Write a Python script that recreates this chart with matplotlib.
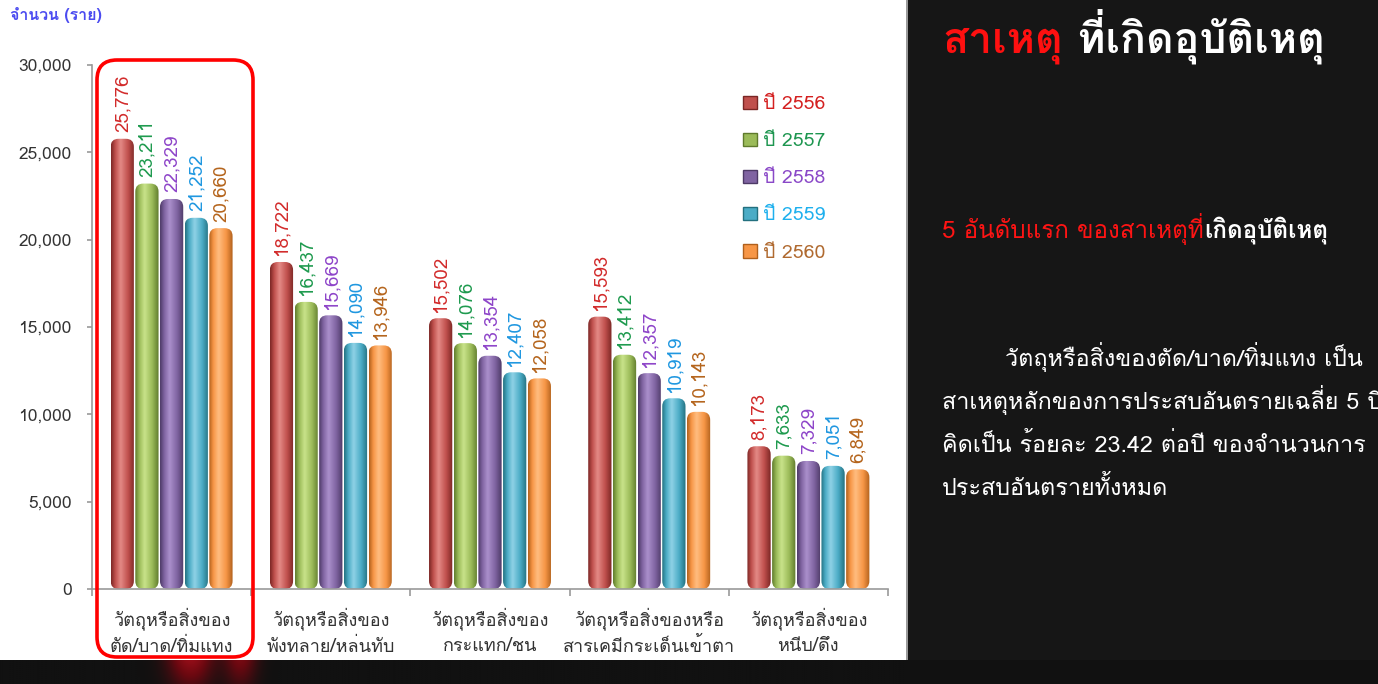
import numpy as np
import matplotlib
matplotlib.use('Agg')
import matplotlib.pyplot as plt
from matplotlib import font_manager
from matplotlib.ft2font import FT2Font
from matplotlib.patches import FancyBboxPatch, Rectangle, Patch
from matplotlib.colors import LinearSegmentedColormap
import matplotlib.transforms as mtransforms

# ---------------- data ----------------
categories = ['วัตถุหรือสิ่งของ\nตัด/บาด/ทิ่มแทง',
              'วัตถุหรือสิ่งของ\nพังทลาย/หล่นทับ',
              'วัตถุหรือสิ่งของ\nกระแทก/ชน',
              'วัตถุหรือสิ่งของหรือ\nสารเคมีกระเด็นเข้าตา',
              'วัตถุหรือสิ่งของ\nหนีบ/ดึง']
years = ['ปี 2556', 'ปี 2557', 'ปี 2558', 'ปี 2559', 'ปี 2560']
v2556 = [25776, 18722, 15502, 15593, 8173]
v2557 = [23211, 16437, 14076, 13412, 7633]
v2558 = [22329, 15669, 13354, 12357, 7329]
v2559 = [21252, 14090, 12407, 10919, 7051]
v2560 = [20660, 13946, 12058, 10143, 6849]
yticks = [0, 5000, 10000, 15000, 20000, 25000, 30000]

title_red = 'สาเหตุ'
title_white = ' ที่เกิดอุบัติเหตุ'
sub_red = '5 อันดับแรก ของสาเหตุที่'
sub_white = 'เกิดอุบัติเหตุ'
para = ['        วัตถุหรือสิ่งของตัด/บาด/ทิ่มแทง เป็น',
        'สาเหตุหลักของการประสบอันตรายเฉลี่ย 5 ปี',
        'คิดเป็น ร้อยละ 23.42 ต่อปี ของจำนวนการ',
        'ประสบอันตรายทั้งหมด']

series = [v2556, v2557, v2558, v2559, v2560]
barColors = ['#c0504d', '#9bbb59', '#8064a2', '#4bacc6', '#f79646']
darkColors = ['#7a2624', '#5f7a2c', '#4d3a66', '#23707f', '#b0601c']
lightColors = ['#e48a86', '#c9e38a', '#ab90cc', '#8fd2e6', '#ffbd80']
labelColors = ['#d22b2b', '#1e9a4e', '#8e45c9', '#1f97e0', '#b5651d']
legendColors = ['#d42020', '#1e9650', '#8a48c8', '#1eb0ee', '#b06a30']


# ---------------- fonts ----------------
def findThaiFonts():
    found = {}
    for f in font_manager.fontManager.ttflist:
        try:
            ft = FT2Font(f.fname)
            if ft.get_char_index(0x0E01) and ft.get_char_index(0x0E35):
                w = f.weight if isinstance(f.weight, int) else (700 if 'bold' in str(f.weight) else 400)
                found.setdefault(f.name, set()).add(w)
        except Exception:
            pass
    return found

thaiFonts = findThaiFonts()
prefer = ['Tahoma', 'Leelawadee UI', 'Loma', 'Noto Sans Thai', 'Noto Sans Thai UI',
          'Garuda', 'Sarabun', 'Umpush', 'Waree', 'IBM Plex Sans Thai Looped']
thai = None
for p in prefer:
    if p in thaiFonts:
        thai = p
        break
if thai is None and thaiFonts:
    thai = sorted(thaiFonts)[0]

# a bold-capable looped font for the headings
thaiBold = thai
if thai is None or max(thaiFonts.get(thai, {400})) < 600:
    for p in prefer + sorted(thaiFonts):
        if p in thaiFonts and max(thaiFonts[p]) >= 600:
            thaiBold = p
            break

fams = ([thai] if thai else []) + ['DejaVu Sans']
boldFams = ([thaiBold] if thaiBold else []) + ['DejaVu Sans']
plt.rcParams['font.family'] = fams

# ---------------- figure ----------------
W, H = 1378, 684
fig = plt.figure(figsize=(W / 100, H / 100), dpi=100)
fig.patch.set_facecolor('white')

# dark right panel and bottom strip
fig.patches.append(Rectangle((907 / W, 0), 1 - 907 / W, 1, transform=fig.transFigure,
                             facecolor='#161616', edgecolor='none', zorder=-1))
fig.patches.append(Rectangle((906 / W, 24 / H), 1.5 / W, 1 - 24 / H, transform=fig.transFigure,
                             facecolor='#9a9a9a', edgecolor='none', zorder=-1))
fig.patches.append(Rectangle((0, 0), 1, 24 / H, transform=fig.transFigure,
                             facecolor='#111111', edgecolor='none', zorder=-1))

# red glow on bottom strip
glowAx = fig.add_axes([0, 0, 907 / W, 24 / H])
glowAx.axis('off')
gx = np.linspace(0, 907, 400)
gy = np.linspace(0, 1, 12).reshape(-1, 1)
glow = (np.exp(-((gx - 190) / 22) ** 2) * 0.9 + np.exp(-((gx - 240) / 16) ** 2) * 0.65) * (0.45 + 0.55 * gy)
glowCmap = LinearSegmentedColormap.from_list('glow', ['#111111', '#6a0810', '#a8101c'])
glowAx.imshow(glow, cmap=glowCmap, vmin=0, vmax=1.1, aspect='auto', origin='lower',
              extent=[0, 907, 0, 24], interpolation='bicubic')

# main axes
axL, axB = 92 / W, (H - 589) / H
axW, axH = (888 - 92) / W, (589 - 65) / H
ax = fig.add_axes([axL, axB, axW, axH])
ax.set_facecolor('none')

nCat = len(categories)
nSer = len(series)
step = 0.155
bw = 0.146
xlim = (0, nCat)
ylim = (0, 30000)

# y units per x unit at same pixel length (for rounded bar tops)
pxX = axW * W / (xlim[1] - xlim[0])
pxY = axH * H / (ylim[1] - ylim[0])
aspect = pxX / pxY
capPx = 8.0

grad = np.linspace(0, 1, 128).reshape(1, -1)
for s, vals in enumerate(series):
    cmap = LinearSegmentedColormap.from_list(
        'c%d' % s,
        [(0, darkColors[s]), (0.18, barColors[s]), (0.4, lightColors[s]),
         (0.72, barColors[s]), (1, darkColors[s])])
    for c, v in enumerate(vals):
        x0 = c + 0.5 + (s - (nSer - 1) / 2) * step - bw / 2
        rs = capPx / pxY / aspect
        patch = FancyBboxPatch((x0, 0), bw, v,
                               boxstyle='round,pad=0,rounding_size=%f' % rs,
                               mutation_aspect=aspect, linewidth=0,
                               facecolor='none', edgecolor='none')
        ax.add_patch(patch)
        im = ax.imshow(grad, cmap=cmap, extent=[x0, x0 + bw, 0, v], aspect='auto',
                       origin='lower', interpolation='bicubic', zorder=2)
        im.set_clip_path(patch)
        ax.text(x0 + bw / 2, v + 380, format(v, ','), rotation=90, ha='center',
                va='bottom', color=labelColors[s], fontsize=13.5)

ax.set_xlim(*xlim)
ax.set_ylim(*ylim)
for sp in ['top', 'right']:
    ax.spines[sp].set_visible(False)
for sp in ['left', 'bottom']:
    ax.spines[sp].set_color('#9a9a9a')
    ax.spines[sp].set_linewidth(1.2)
ax.set_yticks(yticks)
ax.set_yticklabels([format(t, ',') for t in yticks])
ax.tick_params(axis='y', colors='#9a9a9a', labelcolor='#333333', labelsize=12.5,
               length=3.5, width=1.2, pad=11)
ax.set_xticks(range(nCat + 1))
ax.set_xticklabels([])
ax.tick_params(axis='x', colors='#9a9a9a', length=5, width=1.2)

trans = mtransforms.blended_transform_factory(ax.transData, ax.transAxes)
for c, lab in enumerate(categories):
    ax.text(c + 0.5, -0.081, lab, transform=trans, ha='center', va='center',
            fontsize=13, color='#333333', linespacing=1.5)

# legend
handles = [Patch(facecolor=barColors[s], edgecolor=darkColors[s], linewidth=1.0)
           for s in range(nSer)]
leg = ax.legend(handles, years, loc='upper left', bbox_to_anchor=(0.808, 0.957),
                frameon=False, fontsize=14, handlelength=0.7, handleheight=0.7,
                handletextpad=0.35, labelspacing=0.98, borderaxespad=0)
for s, t in enumerate(leg.get_texts()):
    t.set_color(legendColors[s])

# y-axis caption
fig.text(10 / W, 1 - 20 / H, 'จำนวน (ราย)', color='#4b4bf0', fontsize=11.5,
         fontweight='bold', family=boldFams, va='baseline', ha='left')

# red rounded highlight box
rb = FancyBboxPatch((97 / W, (H - 657) / H), 156 / W, 597 / H,
                    boxstyle='round,pad=0,rounding_size=%f' % (20 / W),
                    mutation_aspect=W / H, transform=fig.transFigure,
                    facecolor='none', edgecolor='#ff0000', linewidth=2.6, zorder=5)
fig.patches.append(rb)

# right panel texts
renderer = fig.canvas.get_renderer()


def mixedText(x, y, parts, **kw):
    for txt, col, wt in parts:
        t = fig.text(x, y, txt, color=col, va='baseline', ha='left', fontweight=wt,
                     family=boldFams if wt == 'bold' else fams, **kw)
        bb = t.get_window_extent(renderer=renderer)
        x = bb.x1 / W


mixedText(942 / W, 1 - 52 / H, [(title_red, '#ff1010', 'bold'), (title_white, 'white', 'bold')],
          fontsize=30.8)
mixedText(942 / W, 1 - 238 / H, [(sub_red, '#ff1414', 'normal'), (sub_white, 'white', 'bold')],
          fontsize=17.4)
for i, line in enumerate(para):
    fig.text(942 / W, 1 - (366 + 43 * i) / H, line, color='white', fontsize=16.8,
             va='baseline', ha='left')

fig.savefig('out.png', dpi=100, facecolor=fig.get_facecolor())
